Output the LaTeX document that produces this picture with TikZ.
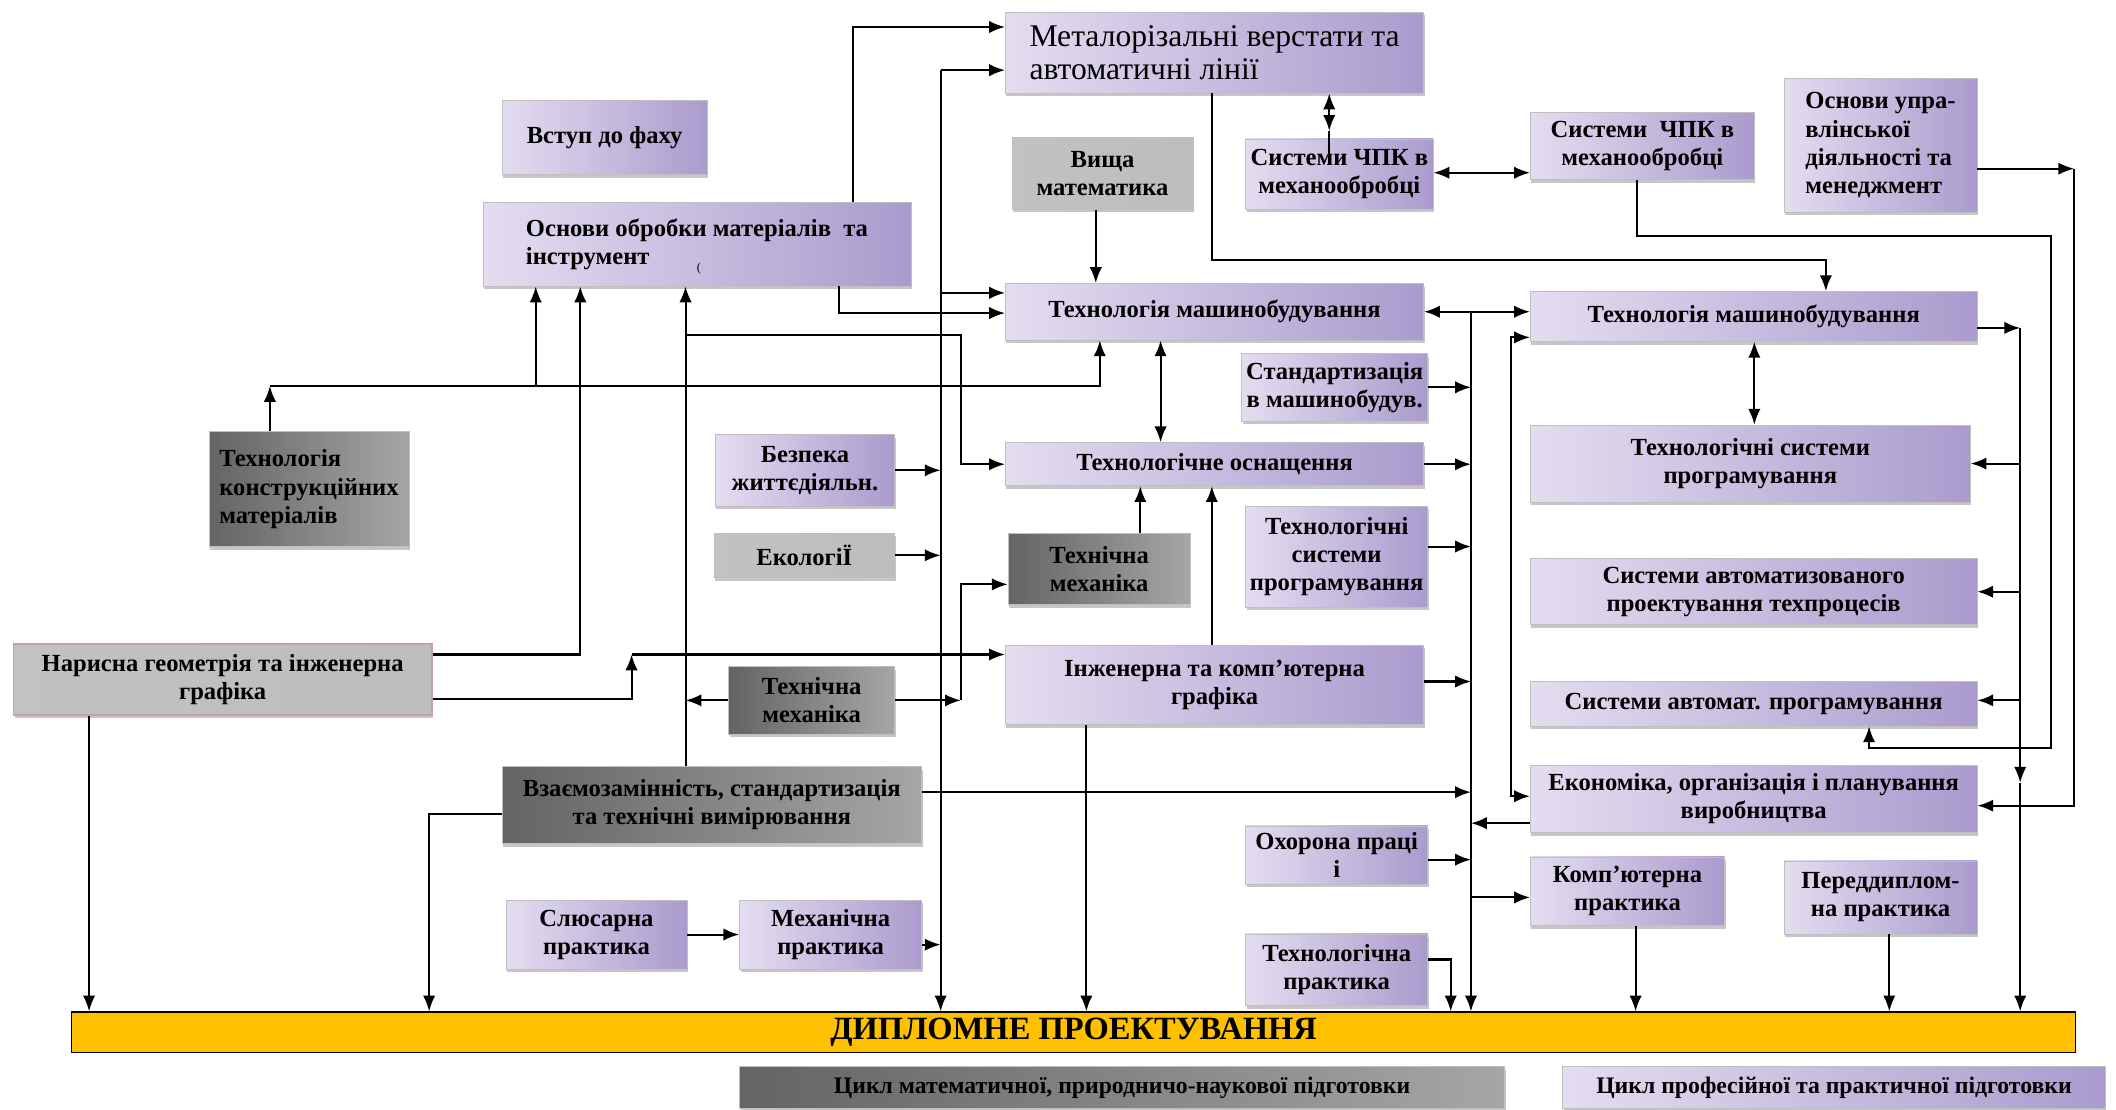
\documentclass[tikz,border=0pt]{standalone}
\usepackage{fontspec}
\setmainfont{Liberation Serif}
\usepackage{tikz}
\usetikzlibrary{calc,shadows,arrows.meta}

\definecolor{lavlight}{RGB}{228,221,240}
\definecolor{lavdark}{RGB}{170,155,205}
\definecolor{graydark}{RGB}{100,100,100}
\definecolor{graylight}{RGB}{228,228,228}
\definecolor{pinkedge}{RGB}{200,160,170}
\definecolor{diplomfill}{RGB}{255,192,0}

\def\px{0.027cm}

\begin{document}
\begin{tikzpicture}[x=\px,y=-\px,
		>={Latex[length=9pt,width=7pt]},
		every path/.style={line width=1.15pt},
		box/.style={rectangle,inner sep=1pt,align=center,draw=black!25,line width=0.4pt,
			font=\fontsize{14}{16}\selectfont\bfseries,
			drop shadow={shadow xshift=0.6pt,shadow yshift=-1.8pt,opacity=.45}},
		lav/.style={box,left color=lavlight,right color=lavdark},
		grayb/.style={box,left color=graydark,middle color=graylight,right color=gray!70},
		pale/.style={box,left color=black!24,middle color=black!11,right color=black!26}]
	\useasboundingbox (0,0) rectangle (1568,822);

	% top row
	\node[lav,minimum width=310*\px,minimum height=60*\px,align=left,
		font=\fontsize{18}{18.5}\selectfont] (metal) at (900,39) {Металорізальні верстати та\\автоматичні лінії};
	\node[lav,minimum width=152*\px,minimum height=55*\px] (vstup) at (448,102) {Вступ до фаху};
	\node[lav,minimum width=317*\px,minimum height=62*\px,align=left] (osnovy) at (516.5,181) {Основи обробки матеріалів \ та\\інструмент};
	\node[font=\scriptsize] (osnovymark) at (518,199) {(};
	\node[pale,minimum width=134*\px,minimum height=53*\px] (vyshcha) at (817,128.5) {Вища\\математика};
	\node[lav,minimum width=139*\px,minimum height=52*\px] (chpk1) at (992.5,129) {Системи ЧПК в\\механообробці};
	\node[lav,minimum width=166*\px,minimum height=50*\px] (chpk2) at (1217,108) {Системи \ ЧПК в\\механообробці};
	\node[lav,minimum width=143*\px,minimum height=99*\px,align=left] (upr) at (1393.5,107.5) {Основи упра-\\влінської\\діяльності та\\менеджмент};

	% middle
	\node[lav,minimum width=310*\px,minimum height=42*\px] (tm1) at (900,231) {Технологія машинобудування};
	\node[lav,minimum width=331*\px,minimum height=37*\px] (tm2) at (1299.5,234.5) {Технологія машинобудування};
	\node[lav,minimum width=138*\px,minimum height=50*\px] (stand) at (989,287) {Стандартизація\\в машинобудув.};
	\node[grayb,minimum width=148*\px,minimum height=85*\px,align=left] (tkm) at (229,362.5) {Технологія\\конструкційних\\матеріалів};
	\node[lav,minimum width=133*\px,minimum height=53*\px] (bezp) at (596.5,348.5) {Безпека\\життєдіяльн.};
	\node[lav,minimum width=310*\px,minimum height=32*\px] (osn) at (900,344) {Технологічне оснащення};
	\node[lav,minimum width=326*\px,minimum height=57*\px] (tsp1) at (1297,343.5) {Технологічні системи\\програмування};
	\node[pale,minimum width=134*\px,minimum height=33*\px] (eco) at (596,411.5) {ЕкологіЇ};
	\node[grayb,minimum width=135*\px,minimum height=53*\px] (tmech1) at (814.5,421.5) {Технічна\\механіка};
	\node[lav,minimum width=135*\px,minimum height=75*\px] (tsp2) at (990.5,412.5) {Технологічні\\системи\\програмування};
	\node[lav,minimum width=331*\px,minimum height=49*\px] (sapr) at (1299.5,438.5) {Системи автоматизованого\\проектування техпроцесів};
	\node[pale,draw=pinkedge,line width=1pt,minimum width=310*\px,minimum height=53*\px] (narysna) at (165,503.5) {Нарисна геометрія та інженерна\\графіка};
	\node[grayb,minimum width=123*\px,minimum height=50*\px] (tmech2) at (601.5,519) {Технічна\\механіка};
	\node[lav,minimum width=310*\px,minimum height=59*\px] (ikg) at (900,507.5) {Інженерна та комп’ютерна\\графіка};
	\node[lav,minimum width=331*\px,minimum height=33*\px] (sap) at (1299.5,521.5) {Системи автомат. програмування};

	% lower part
	\node[grayb,minimum width=311*\px,minimum height=57*\px] (vzaem) at (527.5,596.5) {Взаємозамінність, стандартизація\\та технічні вимірювання};
	\node[lav,minimum width=331*\px,minimum height=50*\px] (econ) at (1299.5,592) {Економіка, організація і планування\\виробництва};
	\node[lav,minimum width=135*\px,minimum height=43*\px] (ohor) at (990.5,633.5) {Охорона праці\\і};
	\node[lav,minimum width=144*\px,minimum height=51*\px] (komp) at (1206,660.5) {Комп’ютерна\\практика};
	\node[lav,minimum width=143*\px,minimum height=54*\px] (pered) at (1393.5,665) {Переддиплом-\\на практика};
	\node[lav,minimum width=134*\px,minimum height=51*\px] (slus) at (442,692.5) {Слюсарна\\практика};
	\node[lav,minimum width=135*\px,minimum height=51*\px] (mech) at (615.5,692.5) {Механічна\\практика};
	\node[lav,minimum width=135*\px,minimum height=53*\px] (techp) at (990.5,718.5) {Технологічна\\практика};

	% diploma bar and legend
	\node[draw=black,fill=diplomfill,line width=0.8pt,minimum width=1485*\px,minimum height=30*\px,
		font=\fontsize{18.5}{20}\selectfont\bfseries] (diplom) at (795.5,765) {ДИПЛОМНЕ ПРОЕКТУВАННЯ};
	\node[grayb,minimum width=567*\px,minimum height=31*\px,font=\fontsize{13.5}{15}\selectfont\bfseries] (legmath) at (831.5,806) {Цикл математичної, природничо-наукової підготовки};
	\node[lav,minimum width=402*\px,minimum height=31*\px,font=\fontsize{13.5}{15}\selectfont\bfseries] (legprof) at (1359,806) {Цикл професійної та практичної підготовки};

	% junction points of the long lines
	\coordinate (b1top) at (697,52);
	\coordinate (b2top) at (1090,231);
	\coordinate (b3top) at (1497,243);
	\coordinate (b3mid) at (1497,580);
	\coordinate (tkmj) at (200,286);
	\coordinate (nj) at (468,485);
	\coordinate (mechj) at (712,519);
	\coordinate (uprj) at (1537,125);
	\coordinate (cnc) at (985,97);

	% line at x=697
	\draw[->] (b1top) -- (b1top -| metal.west);
	\draw[->] (b1top) -- (b1top |- diplom.north);
	\draw[->] (b1top |- 0,217) -- (tm1.west |- 0,217);
	\draw[->] (bezp.east) -- (bezp.east -| b1top);
	\draw[->] (eco.east) -- (eco.east -| b1top);
	\draw[->] (mech.east |- 0,700) -- (b1top |- 0,700);

	% from osnovy
	\draw[->] (632,0 |- osnovy.north) |- (metal.west |- 0,20);
	\draw[->] (622,0 |- osnovy.south) |- (tm1.west |- 0,232);

	% into osnovy
	\draw[->] (tkm.north -| tkmj) -- (tkmj);
	\draw[->] (tkmj) -| (tm1.south -| 815,0);
	\draw[->] (tkmj -| 397,0) -- (osnovy.south -| 397,0);
	\draw[->] (narysna.east |- 0,485) -| (osnovy.south -| 430,0);
	\draw[->] (narysna.east |- 0,518) -| (nj);
	\draw[->] (nj) -- (ikg.west |- nj);
	\draw[->] (narysna.south -| 66,0) -- (diplom.north -| 66,0);
	\draw[->] (vzaem.north -| 508,0) -- (osnovy.south -| 508,0);
	\draw[->] (508,248) -| (712,0 |- osn.west) -- (osn.west);
	\draw[->] (tmech2.west) -- (tmech2.west -| 508,0);
	\draw[->] (vzaem.west |- 0,603) -| (diplom.north -| 318,0);
	\draw[->] (vzaem.east |- 0,587) -- (b2top |- 0,587);

	% mechanics
	\draw[->] (tmech2.east) -- (mechj);
	\draw[->] (mechj) |- (tmech1.west |- 0,433);
	\draw[->] (tmech1.north -| 845,0) -- (osn.south -| 845,0);
	\draw[->] (ikg.north -| 898,0) -- (osn.south -| 898,0);
	\draw[->] (ikg.south -| 805,0) -- (diplom.north -| 805,0);

	% top middle
	\draw[->] (vyshcha.south -| 812,0) -- (tm1.north -| 812,0);
	\draw[<->] (tm1.south -| 860,0) -- (osn.north -| 860,0);
	\draw[<->] (metal.south -| cnc) -- (cnc);
	\draw (cnc) -- (985,122);
	\draw[<->] (chpk1.east |- 0,128) -- (chpk2.west |- 0,128);
	\draw[->] (metal.south -| 898,0) |- (1353,193) -- (tm2.north -| 1353,0);
	\draw[->] (chpk2.south -| 1213,0) |- (1520,175) -- (1520,554) -| (sap.south -| 1385,0);
	\draw[->] (upr.east |- uprj) -- (uprj);
	\draw[->] (uprj) |- (econ.east |- 0,597);

	% line at x=1090
	\draw[<->] (tm1.east |- b2top) -- (tm2.west |- b2top);
	\draw[->] (b2top) -- (b2top |- diplom.north);
	\draw[->] (stand.east) -- (stand.east -| b2top);
	\draw[->] (osn.east) -- (osn.east -| b2top);
	\draw[->] (tsp2.east |- 0,405) -- (b2top |- 0,405);
	\draw[->] (ikg.east |- 0,505) -- (b2top |- 0,505);
	\draw[->] (econ.west |- 0,610) -- (b2top |- 0,610);
	\draw[->] (ohor.east |- 0,637) -- (b2top |- 0,637);
	\draw[->] (b2top |- 0,665) -- (komp.west |- 0,665);
	\draw[->] (techp.east |- 0,711) -| (diplom.north -| 1075,0);

	% right column
	\draw[<->] (tm2.west |- 0,250) -| (1120,420) |- (econ.west |- 0,590);
	\draw[<->] (tm2.south -| 1300,0) -- (tsp1.north -| 1300,0);
	\draw[->] (tm2.east |- b3top) -- (b3top);
	\draw[->] (b3top) -- (b3mid);
	\draw[->] (b3mid) -- (b3mid |- diplom.north);
	\draw[->] (b3top |- tsp1.east) -- (tsp1.east);
	\draw[->] (b3top |- sapr.east) -- (sapr.east);
	\draw[->] (b3top |- 0,519) -- (sap.east |- 0,519);

	% practice
	\draw[->] (slus.east) -- (mech.west);
	\draw[->] (komp.south -| 1212,0) -- (diplom.north -| 1212,0);
	\draw[->] (pered.south -| 1400,0) -- (diplom.north -| 1400,0);

\end{tikzpicture}
\end{document}
